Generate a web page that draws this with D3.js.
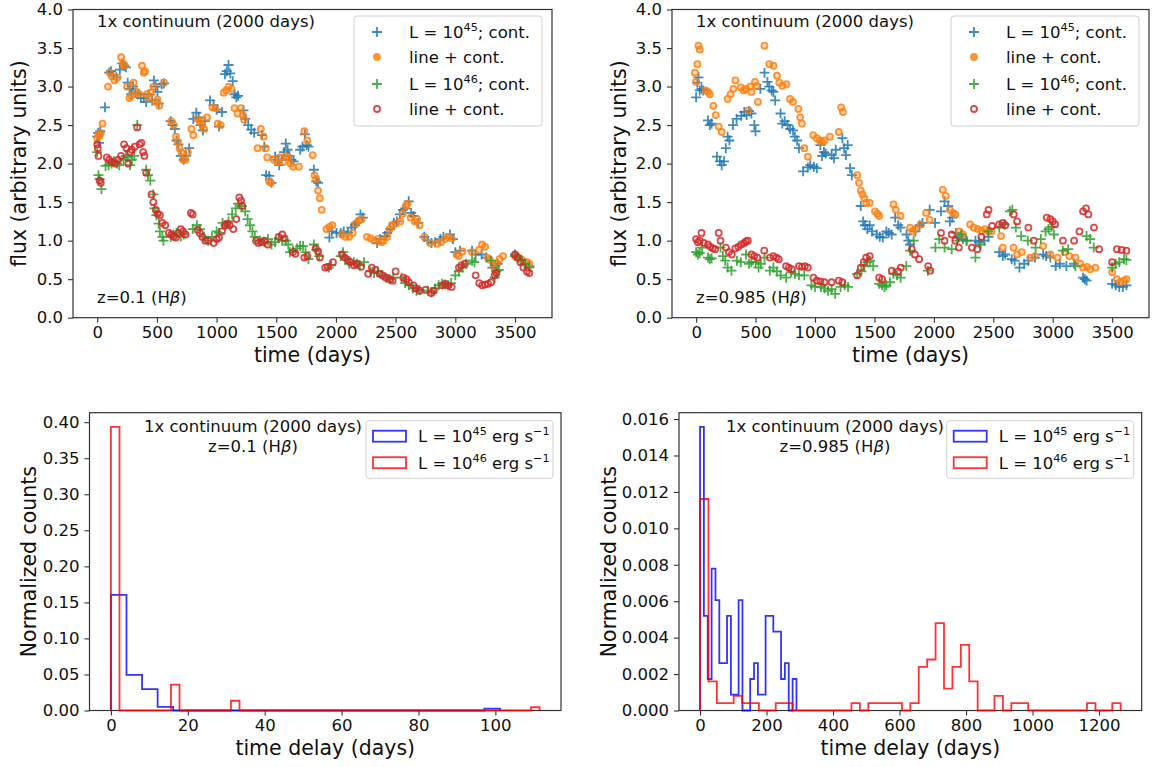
<!DOCTYPE html>
<html>
<head>
<meta charset="utf-8">
<script src="https://cdn.jsdelivr.net/npm/d3@7"></script>
<style>
  body { margin: 0; background: #fff; }
  svg { display: block; font-family: "DejaVu Sans", sans-serif; }
</style>
</head>
<body>
<div id="chart"></div>
<script>
// ---- light curves, z = 0.1 (top left) ----
const p1Cont45 = [[0,2.35],[8,2.4],[15,2.27],[25,2.42],[65,2.73],[100,3.18],[115,3.2],[135,3.15],[160,3.12],[190,3.22],[210,3.3],[225,3.27],[240,3.25],[255,3.05],[270,2.97],[285,2.9],[300,3.0],[320,2.92],[345,2.9],[365,2.85],[390,2.85],[410,2.8],[430,2.9],[460,2.82],[475,3.08],[490,3.0],[505,2.93],[515,2.78],[540,3.03],[560,3.04],[615,2.55],[630,2.5],[650,2.45],[665,2.3],[680,2.25],[700,2.1],[725,2.05],[745,2.1],[770,2.2],[805,2.58],[830,2.66],[850,2.6],[865,2.5],[885,2.43],[900,2.55],[945,2.82],[975,2.76],[1000,2.7],[1020,2.48],[1045,2.67],[1070,3.16],[1085,3.2],[1100,3.28],[1115,3.17],[1135,3.07],[1150,2.9],[1165,2.86],[1180,2.88],[1225,2.69],[1240,2.58],[1265,2.5],[1290,2.44],[1315,2.4],[1380,2.37],[1400,2.22],[1415,1.85],[1440,1.84],[1460,1.75],[1490,2.09],[1510,2.05],[1525,1.98],[1545,2.05],[1565,2.15],[1580,2.26],[1595,2.18],[1610,2.1],[1625,2.05],[1645,2.03],[1700,2.18],[1720,2.22],[1740,2.38],[1755,2.24],[1770,2.22],[1815,1.92],[1835,1.77],[1850,1.75],[1945,1.04],[1965,1.12],[2005,1.1],[2040,1.1],[2065,1.12],[2100,1.1],[2130,1.17],[2160,1.2],[2175,1.23],[2205,1.34],[2225,1.3],[2345,0.97],[2370,1.02],[2410,1.06],[2430,1.1],[2455,1.15],[2485,1.23],[2510,1.25],[2535,1.34],[2560,1.4],[2580,1.42],[2610,1.51],[2630,1.36],[2650,1.32],[2690,1.23],[2740,1.05],[2770,1.0],[2800,0.97],[2830,0.98],[2875,1.02],[2900,1.05],[2955,1.08],[2980,1.02],[3000,0.85],[3040,0.87],[3140,0.87],[3170,0.82],[3220,0.82],[3260,0.78],[3310,0.65],[3330,0.68],[3355,0.7],[3500,0.82],[3525,0.78],[3550,0.75],[3580,0.7],[3620,0.67]];
const p1Line45 = [[0,2.33],[10,2.38],[20,2.36],[30,2.4],[45,2.52],[90,3.0],[105,3.18],[125,3.13],[145,3.08],[170,3.12],[200,3.38],[215,3.3],[230,3.27],[250,3.0],[270,2.85],[285,2.88],[305,3.05],[330,2.93],[350,2.9],[375,3.27],[390,3.18],[400,3.2],[415,2.9],[430,2.85],[455,2.92],[470,3.0],[490,2.8],[505,2.83],[520,2.75],[560,3.05],[620,2.55],[640,2.5],[660,2.35],[675,2.28],[690,2.2],[705,2.15],[720,2.05],[740,2.05],[760,2.15],[790,2.45],[805,2.37],[840,2.58],[860,2.55],[880,2.5],[895,2.45],[920,2.6],[965,2.73],[990,2.72],[1010,2.52],[1035,2.5],[1060,2.92],[1080,2.95],[1100,3.0],[1125,2.97],[1150,2.72],[1175,2.65],[1203,2.72],[1222,2.63],[1231,2.57],[1343,2.2],[1371,2.45],[1394,2.35],[1410,2.2],[1425,2.08],[1440,1.77],[1455,1.75],[1480,2.05],[1510,2.02],[1530,2.08],[1560,2.02],[1580,2.1],[1600,2.08],[1620,2.0],[1640,1.96],[1689,1.96],[1735,2.42],[1760,2.3],[1805,2.11],[1820,1.85],[1835,1.8],[1850,1.65],[1865,1.55],[1880,1.4],[1920,1.15],[1945,1.18],[1970,1.2],[2050,1.08],[2080,1.05],[2110,1.05],[2140,1.1],[2165,1.22],[2190,1.26],[2215,1.28],[2260,1.05],[2290,1.03],[2320,1.0],[2350,1.02],[2380,0.98],[2400,1.0],[2430,1.05],[2450,1.15],[2470,1.2],[2500,1.22],[2540,1.25],[2560,1.35],[2585,1.45],[2600,1.48],[2625,1.3],[2660,1.25],[2680,1.28],[2700,1.2],[2740,1.05],[2790,0.97],[2850,0.96],[2880,0.98],[2915,1.02],[2940,1.05],[2970,1.03],[3010,0.82],[3030,0.8],[3060,0.86],[3140,0.85],[3200,0.88],[3225,0.95],[3250,0.92],[3270,0.78],[3290,0.75],[3320,0.66],[3350,0.7],[3370,0.76],[3400,0.8],[3500,0.8],[3530,0.78],[3560,0.75],[3600,0.72],[3620,0.7]];
const p1Cont46 = [[0,2.15],[10,1.85],[20,1.8],[35,1.67],[70,1.97],[95,1.98],[120,2.0],[140,2.03],[165,2.0],[185,1.98],[220,2.05],[240,2.1],[255,2.08],[275,1.98],[290,2.05],[310,2.1],[335,2.5],[410,1.92],[425,1.85],[445,1.78],[470,1.6],[480,1.42],[495,1.33],[515,1.22],[525,1.12],[545,1.05],[555,1.0],[615,1.05],[640,1.08],[665,1.1],[700,1.05],[725,1.08],[800,1.15],[835,1.2],[860,1.15],[895,1.05],[930,1.0],[960,1.05],[1000,1.12],[1020,1.1],[1050,1.23],[1075,1.2],[1100,1.25],[1130,1.34],[1160,1.42],[1180,1.48],[1210,1.45],[1240,1.38],[1260,1.28],[1280,1.2],[1300,1.12],[1320,1.05],[1365,1.0],[1400,0.98],[1430,1.02],[1460,0.95],[1490,0.98],[1520,1.03],[1550,1.0],[1580,1.0],[1600,0.95],[1615,0.85],[1640,0.87],[1675,0.9],[1700,0.93],[1725,0.93],[1745,0.85],[1770,0.76],[1815,0.95],[1835,0.88],[1860,0.8],[1940,0.65],[1960,0.68],[2040,0.8],[2060,0.85],[2080,0.76],[2110,0.7],[2150,0.72],[2175,0.7],[2200,0.68],[2235,0.72],[2290,0.6],[2320,0.58],[2350,0.6],[2390,0.55],[2420,0.52],[2450,0.5],[2480,0.52],[2550,0.52],[2580,0.45],[2610,0.42],[2645,0.38],[2675,0.35],[2700,0.36],[2770,0.35],[2800,0.33],[2830,0.38],[2860,0.42],[2890,0.44],[2915,0.43],[2940,0.42],[2965,0.45],[3000,0.55],[3030,0.6],[3060,0.65],[3090,0.7],[3140,0.74],[3160,0.72],[3300,0.74],[3330,0.52],[3345,0.6],[3365,0.62],[3500,0.8],[3525,0.78],[3555,0.75],[3585,0.7],[3620,0.65]];
const p1Line46 = [[0,2.25],[5,2.2],[10,2.1],[20,1.78],[30,1.75],[80,2.08],[100,2.05],[125,2.02],[150,2.0],[175,2.05],[200,2.1],[225,2.25],[245,2.2],[260,2.0],[275,2.15],[290,2.18],[315,2.22],[335,2.47],[355,2.25],[370,2.27],[385,2.15],[395,2.1],[410,1.88],[455,1.6],[470,1.5],[490,1.4],[505,1.35],[525,1.33],[545,1.23],[570,1.2],[600,1.1],[620,1.08],[640,1.05],[660,1.04],[680,1.1],[700,1.15],[720,1.12],[740,1.08],[785,1.36],[800,1.34],[840,1.14],[860,1.1],[880,1.05],[905,1.0],[930,1.0],[975,0.97],[1000,1.02],[1020,1.04],[1045,1.12],[1070,1.2],[1090,1.22],[1110,1.2],[1140,1.15],[1165,1.28],[1190,1.56],[1205,1.52],[1215,1.45],[1330,1.0],[1350,0.97],[1375,0.98],[1400,1.0],[1430,0.95],[1520,1.05],[1550,1.08],[1570,1.03],[1640,0.85],[1660,0.83],[1735,0.78],[1760,0.8],[1830,0.9],[1850,0.86],[1865,0.78],[1910,0.65],[1930,0.66],[1975,0.72],[2050,0.82],[2075,0.78],[2100,0.75],[2120,0.72],[2150,0.68],[2175,0.7],[2210,0.66],[2270,0.57],[2300,0.65],[2330,0.62],[2365,0.57],[2390,0.55],[2420,0.52],[2450,0.5],[2475,0.48],[2500,0.6],[2565,0.52],[2590,0.5],[2610,0.46],[2650,0.42],[2670,0.38],[2700,0.35],[2750,0.36],[2800,0.32],[2820,0.35],[2890,0.42],[2915,0.44],[2940,0.42],[2970,0.4],[3030,0.65],[3050,0.68],[3080,0.7],[3170,0.55],[3200,0.45],[3225,0.42],[3250,0.43],[3275,0.44],[3300,0.46],[3330,0.55],[3345,0.58],[3500,0.82],[3520,0.78],[3545,0.72],[3570,0.65],[3600,0.6],[3620,0.58]];

// ---- light curves, z = 0.985 (top right) ----
const p2Cont45 = [[0,2.86],[10,3.05],[20,3.12],[30,2.95],[45,2.97],[60,2.95],[100,2.56],[115,2.5],[130,2.52],[175,2.09],[200,2.03],[215,1.98],[235,2.03],[250,2.2],[265,2.35],[280,2.3],[310,2.5],[340,2.58],[380,2.62],[405,2.67],[425,2.63],[445,2.68],[465,2.65],[490,2.5],[500,2.42],[540,2.97],[575,3.18],[600,3.06],[615,3.0],[635,2.95],[650,2.93],[665,2.82],[710,2.65],[725,2.52],[745,2.55],[770,2.5],[790,2.45],[815,2.43],[830,2.35],[850,2.3],[865,2.2],[900,1.9],[940,1.95],[960,1.98],[990,1.96],[1015,1.94],[1045,2.24],[1060,2.1],[1075,2.15],[1090,2.13],[1140,2.11],[1160,2.07],[1175,2.18],[1230,2.33],[1245,2.2],[1260,2.11],[1275,2.24],[1295,1.94],[1310,1.85],[1385,1.45],[1405,1.25],[1420,1.2],[1440,1.15],[1460,1.2],[1480,1.12],[1520,1.08],[1545,1.05],[1570,1.04],[1600,1.12],[1620,1.1],[1645,1.08],[1675,1.3],[1700,1.2],[1720,1.17],[1770,1.08],[1785,1.0],[1800,0.95],[1845,1.12],[1880,1.2],[1905,1.23],[1965,1.4],[2010,1.23],[2060,1.38],[2090,1.51],[2120,1.45],[2135,1.25],[2155,1.3],[2185,1.1],[2210,1.05],[2245,1.02],[2275,1.0],[2350,1.0],[2380,0.98],[2425,1.0],[2460,1.05],[2550,0.85],[2580,0.8],[2600,0.82],[2655,0.76],[2680,0.74],[2720,0.65],[2760,0.7],[2795,0.74],[2850,0.78],[2920,0.82],[2945,0.8],[2980,0.78],[3025,0.67],[3060,0.7],[3115,0.67],[3180,0.7],[3255,0.52],[3270,0.5],[3285,0.48],[3500,0.44],[3530,0.42],[3560,0.4],[3590,0.4],[3620,0.42]];
const p2Line45 = [[-10,3.18],[0,3.06],[10,3.29],[20,3.53],[30,3.48],[80,2.95],[100,2.93],[115,2.9],[145,2.75],[165,2.63],[190,2.48],[215,2.41],[265,2.84],[290,2.9],[313,2.97],[330,3.08],[375,2.99],[400,2.95],[420,2.97],[440,2.69],[455,3.0],[465,2.93],[495,3.06],[510,3.01],[520,2.8],[575,3.53],[615,3.29],[650,3.27],[680,3.14],[700,3.05],[725,3.01],[760,3.03],[790,2.84],[815,2.8],[860,2.71],[875,2.6],[890,2.52],[910,2.2],[940,2.09],[985,2.37],[1015,2.33],[1040,2.3],[1060,2.28],[1080,2.3],[1125,2.35],[1200,2.41],[1220,2.73],[1235,2.67],[1355,1.85],[1370,1.75],[1385,1.65],[1400,1.6],[1415,1.55],[1430,1.49],[1460,1.49],[1505,1.38],[1525,1.35],[1540,1.32],[1660,1.47],[1680,1.4],[1720,1.32],[1800,1.17],[1820,1.12],[1845,1.15],[1890,1.21],[1935,1.36],[1965,1.27],[2075,1.66],[2100,1.58],[2135,1.4],[2160,1.36],[2180,1.34],[2215,1.12],[2245,1.08],[2305,1.21],[2335,1.17],[2370,1.15],[2400,1.13],[2430,1.15],[2460,1.12],[2485,1.12],[2565,1.06],[2580,0.91],[2670,0.91],[2700,0.82],[2740,0.85],[2810,0.78],[2850,0.8],[2920,0.93],[2980,0.82],[3040,0.78],[3100,0.85],[3140,0.8],[3190,0.78],[3230,0.7],[3255,0.65],[3290,0.66],[3315,0.63],[3360,0.65],[3500,0.59],[3540,0.5],[3570,0.46],[3600,0.48],[3620,0.5]];
const p2Cont46 = [[0,0.85],[15,0.82],[30,0.84],[50,0.91],[100,0.78],[115,0.76],[130,0.77],[205,0.91],[225,0.8],[245,0.74],[265,0.65],[297,0.61],[343,0.74],[375,0.72],[420,0.82],[445,0.7],[465,0.72],[500,0.72],[525,0.65],[545,0.7],[575,0.78],[620,0.61],[650,0.65],[680,0.6],[710,0.55],[757,0.52],[800,0.59],[830,0.57],[865,0.55],[910,0.55],[970,0.42],[1000,0.4],[1050,0.4],[1080,0.38],[1110,0.35],[1140,0.37],[1170,0.31],[1215,0.4],[1250,0.42],[1278,0.4],[1355,0.57],[1390,0.6],[1416,0.67],[1440,0.72],[1462,0.74],[1490,0.67],[1540,0.44],[1565,0.42],[1585,0.4],[1600,0.42],[1630,0.46],[1660,0.57],[1690,0.55],[1720,0.52],[1768,0.67],[1800,0.87],[1830,1.0],[1950,0.61],[2013,0.91],[2045,1.02],[2090,0.91],[2150,0.89],[2195,1.0],[2230,1.08],[2275,1.0],[2350,0.78],[2395,0.95],[2458,1.12],[2550,1.17],[2595,1.21],[2640,1.38],[2660,1.4],[2690,1.17],[2735,1.06],[2790,1.0],[2856,0.91],[2900,1.02],[2940,1.12],[2965,1.15],[2990,1.18],[3010,1.08],[3085,0.87],[3130,0.89],[3190,0.67],[3285,1.06],[3315,1.02],[3345,0.91],[3500,0.65],[3530,0.7],[3560,0.72],[3600,0.76],[3620,0.75]];
const p2Line46 = [[0,1.02],[15,0.98],[30,1.0],[45,1.1],[65,0.97],[100,0.95],[120,0.92],[140,0.9],[160,0.89],[190,1.1],[205,1.0],[250,0.91],[275,0.85],[300,0.82],[330,0.9],[355,0.92],[380,0.95],[405,0.97],[420,0.99],[435,1.0],[465,0.82],[490,0.8],[515,0.78],[573,0.87],[620,0.78],[650,0.8],[675,0.78],[695,0.76],[757,0.67],[780,0.65],[803,0.63],[865,0.67],[890,0.66],[915,0.67],[940,0.65],[987,0.52],[1015,0.48],[1045,0.47],[1080,0.46],[1140,0.46],[1200,0.48],[1230,0.46],[1355,0.55],[1385,0.65],[1410,0.72],[1430,0.78],[1460,0.8],[1540,0.52],[1565,0.5],[1646,0.61],[1700,0.6],[1722,0.65],[1814,0.89],[1840,0.82],[1876,0.76],[1952,0.67],[1970,0.61],[2060,1.1],[2090,1.0],[2150,1.08],[2180,1.0],[2210,0.91],[2320,0.91],[2365,0.89],[2400,1.05],[2445,1.34],[2460,1.4],[2490,1.19],[2550,1.21],[2580,1.23],[2600,1.2],[2672,1.34],[2700,1.25],[2795,1.17],[2840,1.0],[2950,1.3],[2980,1.28],[3000,1.25],[3020,1.21],[3086,1.0],[3180,1.0],[3225,1.12],[3255,1.38],[3280,1.42],[3300,1.34],[3347,1.17],[3390,0.89],[3500,0.72],[3540,0.89],[3580,0.88],[3620,0.87]];

// ---- time-delay histograms (normalized counts per bin, bins span [lo, hi]) ----
const h1Range45 = [0, 101.2];
const h1Vals45 = [0.1605,0.0494,0.0296,0.0049,0,0,0,0,0,0,0,0,0,0,0,0,0,0,0,0,0,0,0,0,0.0025];
const h1Range46 = [0, 111.5];
const h1Vals46 = [0.3935,0,0,0,0,0,0,0.0359,0,0,0,0,0,0,0.0135,0,0,0,0,0,0,0,0,0,0,0,0,0,0,0,0,0,0,0,0,0,0,0,0,0,0,0,0,0,0,0,0,0,0,0.0045];
const h2Range45 = [0, 290];
const h2Vals45 = [0.01557,0.0052,0.00173,0.00779,0.00606,0.0026,0.0026,0.0052,0.00087,0.00087,0.00606,0,0,0.00173,0.0026,0.00087,0.00087,0.0052,0.0052,0.00433,0.00433,0.00173,0.0026,0,0.00173];
const h2Range46 = [0, 1265];
const h2Vals46 = [0.01161,0.0016,0.0004,0.0004,0.0008,0.0004,0.0004,0,0,0.0004,0.0004,0,0,0,0,0,0,0,0.0004,0,0.0004,0.0004,0.0004,0.0004,0,0.0004,0.0024,0.0028,0.0048,0.0012,0.0024,0.0036,0.0016,0,0,0.0008,0,0.0004,0.0004,0,0,0,0,0,0,0,0.0004,0,0,0.0004];

// ---- ticks ----
const fluxTicks = [0, 0.5, 1, 1.5, 2, 2.5, 3, 3.5, 4];
const timeTicks = [0, 500, 1000, 1500, 2000, 2500, 3000, 3500];
const h1XTicks = [0, 20, 40, 60, 80, 100];
const h1YTicks = [0, 0.05, 0.1, 0.15, 0.2, 0.25, 0.3, 0.35, 0.4];
const h2XTicks = [0, 200, 400, 600, 800, 1000, 1200];
const h2YTicks = [0, 0.002, 0.004, 0.006, 0.008, 0.01, 0.012, 0.014, 0.016];

const W = 1153, H = 767;
const FONT = 'DejaVu Sans';
const TICK_FS = 16.5, LABEL_FS = 20.5, TEXT_FS = 16.5;
const col = { c45: '#1f77b4', l45: '#ff7f0e', c46: '#2ca02c', l46: '#d62728' };

const svg = d3.select('#chart').append('svg')
    .attr('width', W).attr('height', H)
    .attr('font-family', FONT);
svg.append('rect').attr('width', W).attr('height', H).attr('fill', '#fff');

// panel boxes in pixels
const boxes = {
    p1: { x0: 73, x1: 552, y0: 9.5, y1: 317.7 },
    p2: { x0: 672, x1: 1149, y0: 9.5, y1: 317.7 },
    p3: { x0: 89.5, x1: 561, y0: 412.7, y1: 710.5 },
    p4: { x0: 679, x1: 1141.7, y0: 412.7, y1: 710.5 }
};

// text with <tspan> parts; {t, sup} where sup shifts up
function richText(sel, parts, fs) {
    let up = false;
    parts.forEach(p => {
        const ts = sel.append('tspan').text(p.t);
        if (p.sup && !up) { ts.attr('dy', -fs * 0.42).attr('font-size', fs * 0.68); up = true; }
        else if (p.sup) { ts.attr('font-size', fs * 0.68); }
        else {
            if (up) { ts.attr('dy', fs * 0.42); up = false; }
            if (p.it) ts.attr('font-style', 'italic');
        }
    });
}

function drawAxes(g, box, x, y, xTicks, yTicks, yFmt) {
    const xa = g.append('g').attr('transform', `translate(0,${box.y1})`)
        .call(d3.axisBottom(x).tickValues(xTicks).tickSize(5).tickPadding(4).tickFormat(d3.format('d')));
    const ya = g.append('g').attr('transform', `translate(${box.x0},0)`)
        .call(d3.axisLeft(y).tickValues(yTicks).tickSize(5).tickPadding(5).tickFormat(d3.format(yFmt)));
    [xa, ya].forEach(a => {
        a.select('.domain').remove();
        a.selectAll('.tick line').attr('stroke', '#333').attr('stroke-width', 1.1);
        a.selectAll('.tick text').attr('font-size', TICK_FS).attr('font-family', FONT).attr('fill', '#111');
    });
}

function drawFrame(g, box) {
    g.append('rect')
        .attr('x', box.x0).attr('y', box.y0)
        .attr('width', box.x1 - box.x0).attr('height', box.y1 - box.y0)
        .attr('fill', 'none').attr('stroke', '#333').attr('stroke-width', 1.2);
}

function axisLabels(g, box, xText, xBase, yText, yBase) {
    g.append('text').attr('x', (box.x0 + box.x1) / 2).attr('y', xBase)
        .attr('text-anchor', 'middle').attr('font-size', LABEL_FS).attr('fill', '#111').text(xText);
    g.append('text')
        .attr('transform', `translate(${yBase},${(box.y0 + box.y1) / 2}) rotate(-90)`)
        .attr('text-anchor', 'middle').attr('font-size', LABEL_FS).attr('fill', '#111').text(yText);
}

const plusPath = 'M-5,0H5M0,-5V5';

function drawMarkers(g, data, x, y, kind, color) {
    if (kind === 'plus') {
        g.append('g').selectAll('path').data(data).join('path')
            .attr('transform', d => `translate(${x(d[0])},${y(d[1])})`)
            .attr('d', plusPath).attr('stroke', color).attr('stroke-width', 1.8)
            .attr('fill', 'none').attr('opacity', 0.85);
    } else {
        g.append('g').selectAll('circle').data(data).join('circle')
            .attr('cx', d => x(d[0])).attr('cy', d => y(d[1])).attr('r', 3)
            .attr('fill', kind === 'dot' ? color : 'none').attr('fill-opacity', kind === 'dot' ? 0.35 : 0)
            .attr('stroke', color).attr('stroke-width', 1.8).attr('opacity', 0.85);
    }
}

function lcPanel(box, series, z, ylabX) {
    const g = svg.append('g');
    const x = d3.scaleLinear().domain([-203, 3810]).range([box.x0, box.x1]);
    const y = d3.scaleLinear().domain([0, 4]).range([box.y1, box.y0]);
    drawFrame(g, box);
    drawAxes(g, box, x, y, timeTicks, fluxTicks, '.1f');
    series.forEach(s => drawMarkers(g, s.data, x, y, s.kind, s.color));
    axisLabels(g, box, 'time (days)', 362, 'flux (arbitrary units)', ylabX);

    g.append('text').attr('x', box.x0 + 24).attr('y', 27).attr('font-size', TEXT_FS).attr('fill', '#111')
        .text('1x continuum (2000 days)');
    richText(g.append('text').attr('x', box.x0 + 24).attr('y', 303).attr('font-size', TEXT_FS).attr('fill', '#111'),
        [{ t: `z=${z} (H` }, { t: 'β', it: true }, { t: ')' }], TEXT_FS);

    // legend
    const lx = box.x1 - 198, ly = 16;
    const lg = g.append('g').attr('transform', `translate(${lx},${ly})`);
    lg.append('rect').attr('width', 188).attr('height', 110).attr('rx', 3)
        .attr('fill', '#fff').attr('fill-opacity', 0.85).attr('stroke', '#d0d0d0').attr('stroke-width', 1);
    const rows = [16, 41, 68, 93];
    series.forEach((s, i) => {
        const mg = lg.append('g').attr('transform', `translate(23,${rows[i]})`);
        if (s.kind === 'plus') mg.append('path').attr('d', plusPath).attr('stroke', s.color).attr('stroke-width', 1.8).attr('opacity', 0.85);
        else mg.append('circle').attr('r', 3).attr('fill', s.kind === 'dot' ? s.color : 'none')
            .attr('stroke', s.color).attr('stroke-width', 1.8).attr('opacity', 0.85);
        richText(lg.append('text').attr('x', 55).attr('y', rows[i] + 6).attr('font-size', TEXT_FS).attr('fill', '#111'),
            s.label, TEXT_FS);
    });
}

function histPanel(box, hists, xTicks, yTicks, yFmt, xMax, zText, cx, ylabX) {
    const g = svg.append('g');
    const pad = xMax * 0.05;
    const ymax = d3.max(hists, h => d3.max(h.vals)) * 1.05;
    const x = d3.scaleLinear().domain([-pad, xMax + pad]).range([box.x0, box.x1]);
    const y = d3.scaleLinear().domain([0, ymax]).range([box.y1, box.y0]);
    drawFrame(g, box);
    drawAxes(g, box, x, y, xTicks, yTicks, yFmt);

    const line = d3.line().x(d => x(d[0])).y(d => y(d[1]));
    hists.forEach(h => {
        const n = h.vals.length, w = (h.range[1] - h.range[0]) / n;
        const pts = [[h.range[0], 0]];
        h.vals.forEach((v, i) => { pts.push([h.range[0] + i * w, v]); pts.push([h.range[0] + (i + 1) * w, v]); });
        pts.push([h.range[1], 0]);
        g.append('path').attr('d', line(pts)).attr('fill', 'none')
            .attr('stroke', h.color).attr('stroke-width', 1.8).attr('stroke-opacity', 0.8);
    });
    axisLabels(g, box, 'time delay (days)', 755, 'Normalized counts', ylabX);

    g.append('text').attr('x', cx).attr('y', 432).attr('text-anchor', 'middle')
        .attr('font-size', TEXT_FS).attr('fill', '#111').text('1x continuum (2000 days)');
    richText(g.append('text').attr('x', cx).attr('y', 452).attr('text-anchor', 'middle')
        .attr('font-size', TEXT_FS).attr('fill', '#111'),
        [{ t: `z=${zText} (H` }, { t: 'β', it: true }, { t: ')' }], TEXT_FS);

    // legend
    const lx = box.x1 - 195, ly = 420.7;
    const lg = g.append('g').attr('transform', `translate(${lx},${ly})`);
    lg.append('rect').attr('width', 187).attr('height', 57.6).attr('rx', 3)
        .attr('fill', '#fff').attr('fill-opacity', 0.85).attr('stroke', '#d0d0d0').attr('stroke-width', 1);
    const rows = [15.5, 42];
    hists.forEach((h, i) => {
        lg.append('rect').attr('x', 7).attr('y', rows[i] - 5.5).attr('width', 33).attr('height', 11)
            .attr('fill', 'none').attr('stroke', h.color).attr('stroke-width', 1.8).attr('stroke-opacity', 0.8);
        richText(lg.append('text').attr('x', 52).attr('y', rows[i] + 6).attr('font-size', TEXT_FS).attr('fill', '#111'),
            h.label, TEXT_FS);
    });
}

const lab45 = [{ t: 'L = 10' }, { t: '45', sup: true }, { t: '; cont.' }];
const lab46 = [{ t: 'L = 10' }, { t: '46', sup: true }, { t: '; cont.' }];
const labLine = [{ t: 'line + cont.' }];

lcPanel(boxes.p1, [
    { data: p1Cont45, kind: 'plus', color: col.c45, label: lab45 },
    { data: p1Line45, kind: 'dot', color: col.l45, label: labLine },
    { data: p1Cont46, kind: 'plus', color: col.c46, label: lab46 },
    { data: p1Line46, kind: 'ring', color: col.l46, label: labLine }
], '0.1', 26);

lcPanel(boxes.p2, [
    { data: p2Cont45, kind: 'plus', color: col.c45, label: lab45 },
    { data: p2Line45, kind: 'dot', color: col.l45, label: labLine },
    { data: p2Cont46, kind: 'plus', color: col.c46, label: lab46 },
    { data: p2Line46, kind: 'ring', color: col.l46, label: labLine }
], '0.985', 626);

const hLab45 = [{ t: 'L = 10' }, { t: '45', sup: true }, { t: ' erg s' }, { t: '\u22121', sup: true }];
const hLab46 = [{ t: 'L = 10' }, { t: '46', sup: true }, { t: ' erg s' }, { t: '\u22121', sup: true }];

histPanel(boxes.p3, [
    { range: h1Range45, vals: h1Vals45, color: '#0000ff', label: hLab45 },
    { range: h1Range46, vals: h1Vals46, color: '#ff0000', label: hLab46 }
], h1XTicks, h1YTicks, '.2f', 111.5, '0.1', 253, 36);

histPanel(boxes.p4, [
    { range: h2Range45, vals: h2Vals45, color: '#0000ff', label: hLab45 },
    { range: h2Range46, vals: h2Vals46, color: '#ff0000', label: hLab46 }
], h2XTicks, h2YTicks, '.3f', 1265, '0.985', 835, 616);
</script>
</body>
</html>
